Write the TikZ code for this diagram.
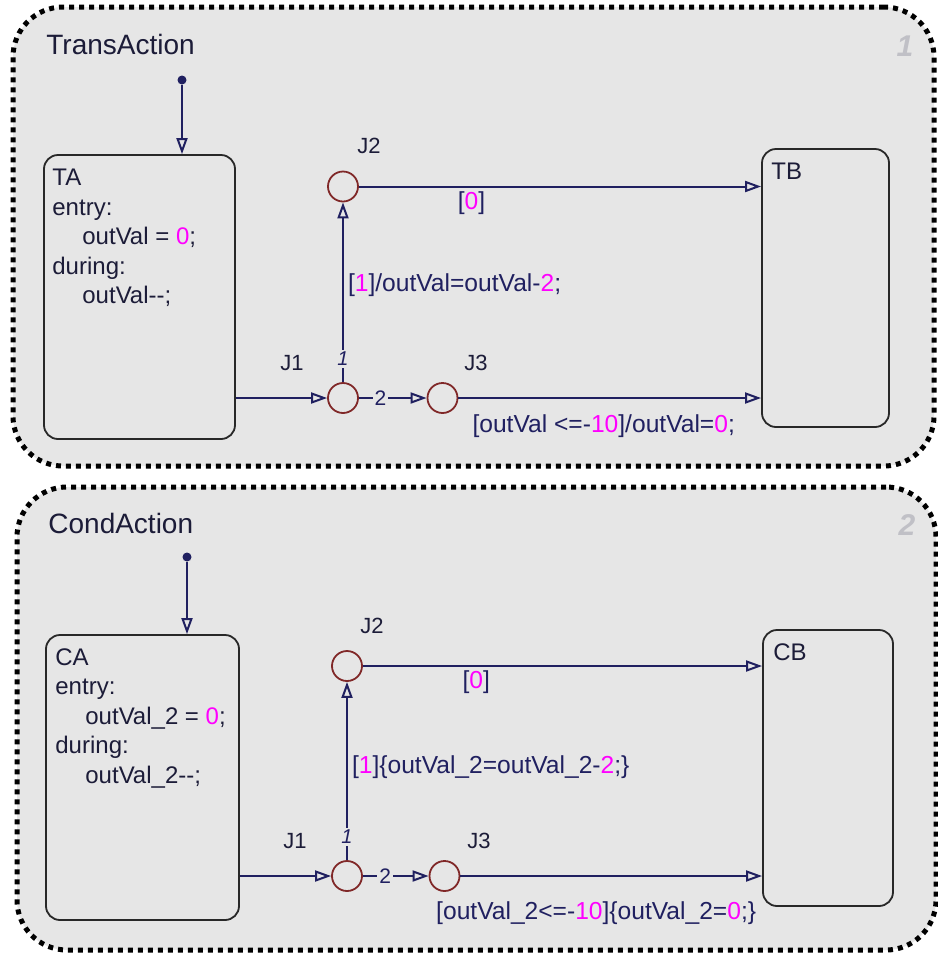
\documentclass[tikz,border=0pt]{standalone}
\usepackage{fontspec}
\setmainfont{Liberation Sans}
\usetikzlibrary{arrows.meta, positioning}
\definecolor{wireblue}{RGB}{32, 32, 96}
\definecolor{junctred}{RGB}{128, 40, 40}
\definecolor{stateedge}{RGB}{40, 40, 40}
\definecolor{chartgray}{RGB}{230, 230, 230}
\definecolor{numgray}{RGB}{192, 192, 198}
\definecolor{valmag}{RGB}{255, 0, 255}
\definecolor{inkdark}{RGB}{28, 28, 56}
\newcommand{\magval}[1]{\textcolor{valmag}{#1}}

\begin{document}
\begin{tikzpicture}[
    x=0.5pt, y=-0.5pt,
    chart/.style={draw=black, fill=chartgray, line width=2.5pt,
                  dash pattern=on 2.5pt off 2.5pt, rounded corners=25pt, inner sep=0pt},
    charttitle/.style={anchor=base west, inner sep=0pt, text=inkdark, font=\fontsize{14}{16}\selectfont},
    chartnum/.style={inner sep=0pt, text=numgray, font=\fontsize{15}{17}\selectfont\bfseries\itshape},
    state/.style={draw=stateedge, line width=0.9pt, rounded corners=7pt, inner sep=0pt},
    statetext/.style={anchor=north west, inner sep=0pt, align=left, text=inkdark,
                      font=\fontsize{12}{14.75}\selectfont},
    junction/.style={circle, draw=junctred, line width=0.9pt, minimum size=15pt, inner sep=0pt},
    initdot/.style={circle, fill=wireblue, minimum size=4.5pt, inner sep=0pt},
    jlabel/.style={anchor=base west, inner sep=0pt, text=inkdark, font=\fontsize{11}{13}\selectfont},
    trans/.style={draw=wireblue, line width=1pt, -{Triangle[open, length=8pt, width=5.5pt]}},
    tlabel/.style={inner sep=2pt, text=wireblue, font=\fontsize{12.3}{14}\selectfont},
    order/.style={fill=chartgray, inner sep=1pt, text=wireblue, font=\fontsize{10.5}{12}\selectfont}
]
\useasboundingbox[fill=white] (0,0) rectangle (938,955);

% chart 1: TransAction
\node[chart, minimum width=460.5pt, minimum height=229.5pt] (chartT) at (473.5, 236.5) {};
\node[charttitle] (titleT) at (46, 54) {TransAction};
\node[chartnum] (numT) at (905, 46) {1};

\node[state, minimum width=95.5pt, minimum height=142pt] (TA) at (139.5, 297) {};
\node[statetext] (TAtext) at (52, 169) {TA\\entry:\\\hspace*{15pt}outVal = \magval{0};\\during:\\\hspace*{15pt}outVal-{}-;};
\node[state, minimum width=63.5pt, minimum height=139pt] (TB) at (825.5, 288) {};
\node[statetext] (TBtext) at (771, 163) {TB};

\node[initdot] (initT) at (182, 80) {};
\node[junction] (J1T) at (343, 398) {};
\node[junction] (J2T) at (343, 186.5) {};
\node[junction] (J3T) at (442.5, 398) {};
\node[jlabel] (J1Tlab) at (280, 370) {J1};
\node[jlabel] (J2Tlab) at (357, 153) {J2};
\node[jlabel] (J3Tlab) at (464, 370) {J3};

\draw[trans] (initT) -- (initT |- TA.north);
\draw[trans] (TA.east |- J1T) -- (J1T);
\draw[trans] (J1T) -- node[order, pos=0.13, font=\fontsize{10}{12}\selectfont\itshape] {1}
    node[tlabel, pos=0.54, anchor=west] {[\magval{1}]/outVal=outVal-\magval{2};} (J2T);
\draw[trans] (J1T) -- node[order, pos=0.32] {2} (J3T);
\draw[trans] (J2T) -- node[tlabel, pos=0.28, below=0pt] {[\magval{0}]} (J2T -| TB.west);
\draw[trans] (J3T) -- node[tlabel, pos=0.48, below=6pt] {[outVal <=-\magval{10}]/outVal=\magval{0};} (J3T -| TB.west);

% chart 2: CondAction
\node[chart, minimum width=459.5pt, minimum height=231.5pt] (chartC) at (476.5, 718.5) {};
\node[charttitle] (titleC) at (48, 533) {CondAction};
\node[chartnum] (numC) at (907, 525) {2};

\node[state, minimum width=96.5pt, minimum height=142.5pt] (CA) at (142.5, 777.5) {};
\node[statetext] (CAtext) at (55, 648) {CA\\entry:\\\hspace*{15pt}outVal\_2 = \magval{0};\\during:\\\hspace*{15pt}outVal\_2-{}-;};
\node[state, minimum width=65pt, minimum height=138pt] (CB) at (828, 768) {};
\node[statetext] (CBtext) at (773, 643) {CB};

\node[initdot] (initC) at (187, 557) {};
\node[junction] (J1C) at (347, 876) {};
\node[junction] (J2C) at (347, 666) {};
\node[junction] (J3C) at (444.5, 876) {};
\node[jlabel] (J1Clab) at (283, 848) {J1};
\node[jlabel] (J2Clab) at (360, 633) {J2};
\node[jlabel] (J3Clab) at (467, 848) {J3};

\draw[trans] (initC) -- (initC |- CA.north);
\draw[trans] (CA.east |- J1C) -- (J1C);
\draw[trans] (J1C) -- node[order, pos=0.13, font=\fontsize{10}{12}\selectfont\itshape] {1}
    node[tlabel, pos=0.52, anchor=west] {[\magval{1}]\{outVal\_2=outVal\_2-\magval{2};\}} (J2C);
\draw[trans] (J1C) -- node[order, pos=0.34] {2} (J3C);
\draw[trans] (J2C) -- node[tlabel, pos=0.284, below=0pt] {[\magval{0}]} (J2C -| CB.west);
\draw[trans] (J3C) -- node[tlabel, pos=0.45, below=10.5pt] {[outVal\_2<=-\magval{10}]\{outVal\_2=\magval{0};\}} (J3C -| CB.west);

\end{tikzpicture}
\end{document}
